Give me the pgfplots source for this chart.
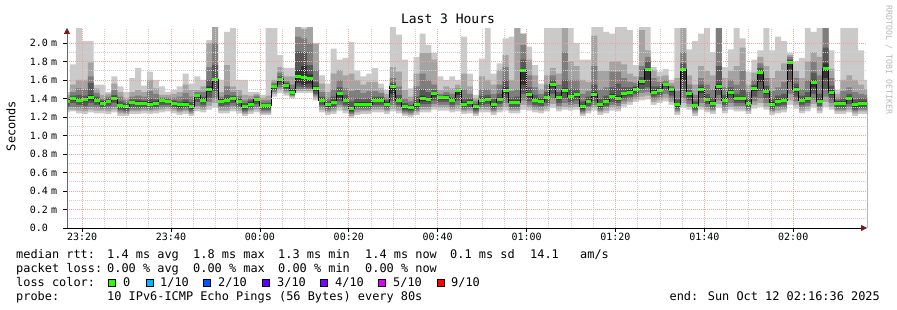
\documentclass[border=0pt]{standalone}
\usepackage{fontspec}
\setmainfont{DejaVu Sans Mono}
\usepackage{pgfplots}
\pgfplotsset{compat=1.18}
\usepackage{pgfplotstable}
\usetikzlibrary{arrows.meta}

\definecolor{sA}{HTML}{CACACA}
\definecolor{sB}{HTML}{A4A4A4}
\definecolor{sC}{HTML}{7E7E7E}
\definecolor{sD}{HTML}{585858}
\definecolor{sE}{HTML}{323232}
\definecolor{medgreen}{HTML}{26FF00}
\definecolor{majgrid}{HTML}{F2A0A0}
\definecolor{mingrid}{HTML}{D0D0D0}
\definecolor{arrowred}{HTML}{7A1A1A}
\definecolor{lc1}{HTML}{00B8FF}
\definecolor{lc2}{HTML}{0059FF}
\definecolor{lc3}{HTML}{5E00FF}
\definecolor{lc4}{HTML}{7E00FF}
\definecolor{lc5}{HTML}{DD00FF}
\definecolor{lc9}{HTML}{FF0000}

\pgfplotstableread{
t m p10 p9 p8 p7 p6 p5 p4 p3 p2 p1
0 1.37 1.47 1.44 1.41 1.39 1.38 1.35 1.32 1.30 1.28 1.25
1 1.40 1.77 1.55 1.47 1.43 1.41 1.38 1.35 1.31 1.28 1.26
2 1.38 2.16 1.60 1.51 1.44 1.40 1.36 1.33 1.30 1.27 1.24
3 1.39 2.02 1.60 1.50 1.43 1.40 1.37 1.32 1.29 1.26 1.23
4 1.41 2.02 1.79 1.64 1.57 1.44 1.38 1.35 1.31 1.28 1.25
5 1.38 1.55 1.51 1.46 1.42 1.40 1.36 1.33 1.30 1.27 1.24
6 1.35 1.55 1.44 1.40 1.38 1.37 1.33 1.31 1.29 1.27 1.24
7 1.37 1.47 1.45 1.42 1.40 1.38 1.35 1.32 1.29 1.26 1.23
8 1.40 1.64 1.56 1.49 1.44 1.42 1.38 1.35 1.31 1.28 1.25
9 1.32 1.53 1.47 1.42 1.37 1.34 1.30 1.28 1.26 1.24 1.21
10 1.31 1.47 1.41 1.38 1.35 1.33 1.29 1.27 1.25 1.23 1.21
11 1.36 1.62 1.47 1.42 1.39 1.37 1.34 1.31 1.28 1.26 1.23
12 1.35 1.73 1.49 1.43 1.39 1.37 1.33 1.30 1.28 1.26 1.23
13 1.35 1.54 1.47 1.42 1.38 1.37 1.33 1.31 1.29 1.27 1.24
14 1.34 1.69 1.60 1.48 1.40 1.36 1.32 1.30 1.28 1.26 1.23
15 1.35 1.60 1.51 1.45 1.39 1.37 1.33 1.31 1.29 1.27 1.24
16 1.38 1.53 1.44 1.41 1.40 1.39 1.36 1.33 1.30 1.28 1.25
17 1.37 1.47 1.44 1.41 1.39 1.38 1.35 1.33 1.31 1.29 1.26
18 1.35 1.49 1.45 1.41 1.38 1.37 1.33 1.31 1.29 1.27 1.24
19 1.33 1.53 1.47 1.42 1.37 1.35 1.31 1.29 1.27 1.25 1.22
20 1.34 1.67 1.55 1.46 1.39 1.36 1.32 1.30 1.28 1.26 1.23
21 1.31 1.56 1.49 1.42 1.36 1.33 1.29 1.27 1.25 1.23 1.21
22 1.43 1.64 1.49 1.47 1.45 1.44 1.41 1.36 1.32 1.29 1.26
23 1.38 1.60 1.53 1.47 1.42 1.40 1.36 1.33 1.30 1.28 1.25
24 1.50 2.03 2.00 1.74 1.60 1.53 1.47 1.41 1.36 1.32 1.28
25 1.60 2.18 2.18 2.00 1.76 1.62 1.58 1.48 1.40 1.35 1.30
26 1.37 1.60 1.47 1.42 1.40 1.39 1.35 1.32 1.30 1.27 1.24
27 1.38 2.12 1.76 1.53 1.44 1.40 1.36 1.33 1.30 1.27 1.24
28 1.40 2.16 1.53 1.47 1.43 1.42 1.38 1.35 1.32 1.29 1.26
29 1.37 1.60 1.49 1.43 1.40 1.39 1.35 1.32 1.30 1.27 1.24
30 1.31 1.60 1.44 1.38 1.35 1.33 1.29 1.27 1.25 1.23 1.21
31 1.34 1.47 1.43 1.40 1.38 1.36 1.32 1.30 1.28 1.26 1.23
32 1.39 1.47 1.45 1.43 1.41 1.40 1.37 1.34 1.31 1.28 1.25
33 1.32 1.44 1.41 1.38 1.35 1.34 1.30 1.28 1.26 1.24 1.22
34 1.32 2.16 1.43 1.38 1.35 1.34 1.30 1.28 1.26 1.24 1.22
35 1.53 2.16 1.60 1.57 1.55 1.54 1.51 1.49 1.47 1.45 1.42
36 1.60 1.87 1.74 1.68 1.64 1.62 1.58 1.55 1.52 1.49 1.46
37 1.54 1.73 1.64 1.59 1.57 1.56 1.52 1.50 1.48 1.46 1.43
38 1.47 1.73 1.64 1.55 1.51 1.49 1.45 1.44 1.43 1.42 1.40
39 1.64 2.18 2.18 2.07 1.91 1.71 1.57 1.53 1.50 1.48 1.46
40 1.63 2.17 2.15 2.05 1.90 1.75 1.55 1.52 1.50 1.48 1.46
41 1.62 2.18 2.18 2.00 1.76 1.66 1.56 1.52 1.50 1.48 1.46
42 1.51 2.00 1.99 1.71 1.58 1.53 1.48 1.45 1.43 1.41 1.38
43 1.38 1.65 1.56 1.47 1.42 1.40 1.36 1.33 1.30 1.28 1.25
44 1.33 1.56 1.47 1.41 1.37 1.35 1.31 1.29 1.27 1.25 1.22
45 1.36 1.94 1.67 1.50 1.42 1.38 1.34 1.31 1.29 1.26 1.23
46 1.45 1.82 1.71 1.60 1.52 1.47 1.41 1.37 1.33 1.30 1.27
47 1.38 1.84 1.65 1.51 1.44 1.40 1.36 1.33 1.30 1.27 1.24
48 1.29 2.01 1.67 1.48 1.37 1.31 1.27 1.25 1.23 1.21 1.19
49 1.34 1.70 1.60 1.49 1.40 1.36 1.32 1.30 1.28 1.25 1.22
50 1.34 1.64 1.55 1.46 1.39 1.36 1.32 1.30 1.28 1.26 1.23
51 1.34 1.67 1.58 1.48 1.40 1.36 1.32 1.30 1.28 1.26 1.23
52 1.38 1.73 1.58 1.48 1.42 1.40 1.36 1.33 1.30 1.28 1.25
53 1.38 1.56 1.51 1.46 1.42 1.40 1.36 1.33 1.30 1.28 1.25
54 1.34 1.49 1.45 1.41 1.38 1.36 1.32 1.30 1.28 1.26 1.23
55 1.53 2.18 1.74 1.62 1.57 1.55 1.45 1.38 1.33 1.29 1.26
56 1.38 2.09 1.69 1.53 1.44 1.40 1.36 1.33 1.30 1.27 1.24
57 1.31 1.82 1.49 1.40 1.35 1.33 1.29 1.27 1.25 1.23 1.21
58 1.30 1.51 1.42 1.37 1.33 1.32 1.28 1.26 1.24 1.22 1.20
59 1.33 1.85 1.67 1.53 1.42 1.35 1.31 1.29 1.27 1.25 1.22
60 1.40 2.10 1.89 1.67 1.50 1.43 1.37 1.34 1.31 1.28 1.25
61 1.39 1.98 1.89 1.60 1.47 1.41 1.37 1.34 1.31 1.28 1.25
62 1.45 1.89 1.82 1.55 1.49 1.47 1.42 1.38 1.34 1.31 1.28
63 1.41 1.64 1.49 1.45 1.43 1.42 1.39 1.36 1.33 1.30 1.27
64 1.41 1.60 1.53 1.47 1.44 1.43 1.39 1.36 1.33 1.30 1.27
65 1.38 1.64 1.51 1.45 1.41 1.40 1.36 1.33 1.30 1.28 1.25
66 1.49 1.60 1.55 1.51 1.50 1.50 1.44 1.38 1.33 1.29 1.26
67 1.34 2.07 1.67 1.50 1.40 1.36 1.32 1.30 1.28 1.26 1.23
68 1.36 1.67 1.53 1.45 1.40 1.38 1.34 1.31 1.29 1.27 1.24
69 1.31 1.44 1.40 1.37 1.34 1.33 1.29 1.27 1.25 1.23 1.21
70 1.38 1.83 1.64 1.50 1.43 1.40 1.36 1.33 1.30 1.28 1.25
71 1.39 2.16 1.60 1.50 1.44 1.41 1.37 1.34 1.31 1.28 1.25
72 1.33 1.67 1.55 1.45 1.39 1.35 1.31 1.29 1.27 1.25 1.22
73 1.39 1.78 1.71 1.55 1.45 1.41 1.37 1.34 1.31 1.28 1.25
74 1.49 2.05 1.87 1.74 1.60 1.52 1.45 1.39 1.35 1.31 1.27
75 1.36 2.07 1.60 1.48 1.41 1.38 1.34 1.31 1.29 1.27 1.24
76 1.36 2.16 2.16 1.50 1.42 1.38 1.34 1.31 1.29 1.27 1.24
77 1.70 2.10 2.10 1.98 1.82 1.72 1.55 1.45 1.38 1.33 1.28
78 1.44 1.96 1.82 1.65 1.52 1.46 1.41 1.37 1.33 1.30 1.27
79 1.38 1.76 1.65 1.52 1.44 1.40 1.36 1.33 1.30 1.28 1.25
80 1.37 1.56 1.50 1.45 1.41 1.39 1.35 1.32 1.30 1.27 1.24
81 1.41 2.16 1.65 1.55 1.47 1.43 1.39 1.35 1.32 1.29 1.26
82 1.55 2.16 1.73 1.65 1.60 1.57 1.52 1.45 1.39 1.34 1.30
83 1.41 2.16 1.67 1.55 1.47 1.43 1.39 1.35 1.32 1.29 1.26
84 1.49 2.16 2.16 1.90 1.60 1.51 1.46 1.40 1.35 1.31 1.28
85 1.42 2.16 1.80 1.60 1.50 1.44 1.40 1.36 1.33 1.30 1.27
86 1.44 2.00 1.75 1.60 1.50 1.46 1.42 1.38 1.34 1.31 1.28
87 1.31 1.82 1.60 1.45 1.37 1.33 1.29 1.27 1.25 1.23 1.21
88 1.37 1.82 1.58 1.48 1.42 1.39 1.35 1.32 1.30 1.27 1.24
89 1.44 2.18 2.08 1.75 1.55 1.47 1.41 1.37 1.33 1.30 1.27
90 1.33 2.18 1.70 1.50 1.40 1.35 1.31 1.29 1.27 1.25 1.22
91 1.37 2.12 1.70 1.52 1.43 1.39 1.35 1.32 1.30 1.27 1.24
92 1.42 2.10 1.80 1.69 1.52 1.45 1.40 1.36 1.33 1.30 1.27
93 1.40 2.18 1.80 1.69 1.56 1.43 1.38 1.35 1.32 1.29 1.26
94 1.45 2.18 1.77 1.62 1.52 1.47 1.43 1.40 1.37 1.34 1.31
95 1.47 2.14 1.67 1.58 1.52 1.49 1.45 1.42 1.39 1.36 1.33
96 1.50 1.76 1.64 1.57 1.53 1.52 1.48 1.45 1.42 1.39 1.36
97 1.58 2.18 2.14 1.75 1.63 1.60 1.55 1.50 1.46 1.42 1.38
98 1.71 2.18 1.92 1.85 1.80 1.73 1.60 1.52 1.47 1.43 1.39
99 1.47 1.74 1.71 1.62 1.53 1.49 1.45 1.42 1.39 1.36 1.33
100 1.49 1.69 1.64 1.58 1.53 1.51 1.47 1.44 1.41 1.38 1.35
101 1.55 1.72 1.65 1.60 1.57 1.56 1.53 1.49 1.45 1.41 1.37
102 1.50 1.60 1.57 1.54 1.52 1.51 1.47 1.43 1.39 1.36 1.33
103 1.33 2.16 1.62 1.48 1.39 1.35 1.31 1.29 1.27 1.25 1.22
104 1.71 2.16 2.16 1.90 1.78 1.73 1.60 1.48 1.40 1.35 1.30
105 1.45 1.93 1.65 1.55 1.49 1.47 1.42 1.38 1.34 1.31 1.28
106 1.32 2.02 1.55 1.44 1.37 1.34 1.30 1.28 1.26 1.24 1.21
107 1.50 2.10 1.75 1.62 1.55 1.52 1.46 1.40 1.35 1.31 1.28
108 1.39 2.16 1.70 1.55 1.45 1.41 1.37 1.34 1.31 1.28 1.25
109 1.35 1.90 1.65 1.50 1.41 1.37 1.33 1.30 1.28 1.26 1.23
110 1.53 2.16 2.16 2.16 1.75 1.56 1.50 1.44 1.38 1.34 1.30
111 1.38 1.74 1.62 1.52 1.44 1.40 1.36 1.33 1.30 1.27 1.24
112 1.47 1.93 1.70 1.60 1.52 1.49 1.44 1.39 1.35 1.31 1.28
113 1.40 2.16 1.75 1.55 1.45 1.42 1.38 1.35 1.32 1.29 1.26
114 1.40 2.05 1.95 1.70 1.50 1.42 1.38 1.35 1.32 1.29 1.26
115 1.35 1.69 1.55 1.47 1.40 1.37 1.33 1.30 1.28 1.26 1.23
116 1.51 1.82 1.68 1.60 1.55 1.53 1.48 1.42 1.37 1.33 1.29
117 1.68 1.92 1.85 1.78 1.73 1.70 1.58 1.48 1.40 1.35 1.31
118 1.48 2.16 1.75 1.62 1.54 1.50 1.45 1.40 1.35 1.31 1.28
119 1.34 1.92 1.62 1.48 1.40 1.36 1.32 1.29 1.27 1.25 1.22
120 1.37 2.07 1.70 1.52 1.43 1.39 1.35 1.32 1.30 1.27 1.24
121 1.38 2.02 1.78 1.58 1.45 1.40 1.36 1.33 1.30 1.28 1.25
122 1.79 1.89 1.87 1.85 1.82 1.81 1.72 1.58 1.45 1.38 1.33
123 1.50 1.80 1.70 1.62 1.56 1.52 1.47 1.42 1.37 1.33 1.29
124 1.38 1.84 1.62 1.50 1.43 1.40 1.36 1.33 1.30 1.27 1.24
125 1.40 2.16 1.80 1.60 1.47 1.42 1.38 1.35 1.32 1.29 1.26
126 1.57 2.12 1.90 1.80 1.68 1.60 1.52 1.45 1.39 1.34 1.30
127 1.37 2.16 1.85 1.65 1.45 1.39 1.35 1.32 1.30 1.27 1.24
128 1.72 2.16 2.16 2.16 1.95 1.78 1.62 1.50 1.42 1.36 1.31
129 1.47 1.92 1.72 1.62 1.54 1.49 1.44 1.39 1.35 1.31 1.28
130 1.35 1.49 1.45 1.41 1.38 1.37 1.33 1.30 1.28 1.26 1.23
131 1.35 2.16 1.60 1.48 1.40 1.37 1.33 1.30 1.28 1.26 1.23
132 1.40 2.16 1.65 1.52 1.45 1.42 1.38 1.34 1.31 1.28 1.25
133 1.33 2.16 1.60 1.47 1.39 1.35 1.31 1.28 1.26 1.24 1.21
134 1.35 1.92 1.55 1.45 1.40 1.37 1.33 1.30 1.28 1.26 1.23
135 1.35 1.60 1.50 1.44 1.40 1.37 1.33 1.30 1.28 1.26 1.23
136 1.35 1.60 1.50 1.44 1.40 1.37 1.33 1.30 1.28 1.26 1.23
}\smoke

\pgfplotsset{smk/.style={const plot, draw=none, fill=#1, forget plot}}

\begin{document}
\begin{tikzpicture}[x=1pt,y=1pt]
\path[use as bounding box] (0,0) rectangle (897,310);
\begin{axis}[
  at={(67pt,82pt)}, anchor=south west,
  scale only axis, width=800pt, height=200pt,
  xmin=-43.4, xmax=136.6, ymin=0, ymax=2.162,
  xtick={-40,-20,0,20,40,60,80,100,120},
  xticklabels={23:20,23:40,00:00,00:20,00:40,01:00,01:20,01:40,02:00},
  minor x tick num=3,
  ytick={0,0.2,0.4,0.6,0.8,1.0,1.2,1.4,1.6,1.8,2.0},
  yticklabels={0.0,0.2 m,0.4 m,0.6 m,0.8 m,1.0 m,1.2 m,1.4 m,1.6 m,1.8 m,2.0 m},
  minor y tick num=1,
  grid=both,
  major grid style={majgrid, line width=0.7pt, dash pattern=on 1pt off 1pt},
  minor grid style={mingrid, line width=0.7pt, dash pattern=on 1pt off 1pt},
  axis on top,
  axis x line=bottom, axis y line=left,
  x axis line style={black, line width=0.8pt, -{Triangle[length=6pt,width=6pt,color=arrowred]}},
  y axis line style={black!60, line width=0.8pt, -{Triangle[length=6pt,width=6pt,color=arrowred]}},
  tick align=outside, major tick length=4pt, minor tick length=0pt,
  major tick style={black, line width=0.7pt},
  xticklabel style={font=\fontsize{10}{12}\selectfont, inner sep=1pt},
  yticklabel style={font=\fontsize{10}{12}\selectfont, text width=31pt, align=left, inner sep=0pt, xshift=-2pt},
  no markers,
]
\addplot[smk=sA] table[x expr=\thisrow{t}*1.33333-44.06, y=p10] {\smoke} \closedcycle;
\addplot[smk=sB] table[x expr=\thisrow{t}*1.33333-44.06, y=p9] {\smoke} \closedcycle;
\addplot[smk=sC] table[x expr=\thisrow{t}*1.33333-44.06, y=p8] {\smoke} \closedcycle;
\addplot[smk=sD] table[x expr=\thisrow{t}*1.33333-44.06, y=p7] {\smoke} \closedcycle;
\addplot[smk=sE] table[x expr=\thisrow{t}*1.33333-44.06, y=p6] {\smoke} \closedcycle;
\addplot[smk=sD] table[x expr=\thisrow{t}*1.33333-44.06, y=p5] {\smoke} \closedcycle;
\addplot[smk=sC] table[x expr=\thisrow{t}*1.33333-44.06, y=p4] {\smoke} \closedcycle;
\addplot[smk=sB] table[x expr=\thisrow{t}*1.33333-44.06, y=p3] {\smoke} \closedcycle;
\addplot[smk=sA] table[x expr=\thisrow{t}*1.33333-44.06, y=p2] {\smoke} \closedcycle;
\addplot[smk=white] table[x expr=\thisrow{t}*1.33333-44.06, y=p1] {\smoke} \closedcycle;
\addplot[const plot, black, line width=1pt] table[x expr=\thisrow{t}*1.33333-44.06, y=m] {\smoke};
\addplot[jump mark left, medgreen, line width=3pt] table[x expr=\thisrow{t}*1.33333-44.06, y=m] {\smoke};
\end{axis}

\node[anchor=base, font=\fontsize{13}{15}\selectfont] at (448,286) {Last 3 Hours};
\node[rotate=90, font=\fontsize{11.9}{14}\selectfont] at (11,184) {Seconds};
\node[rotate=-90, font=\fontsize{8.3}{10}\selectfont, text=black!28] at (889,250) {RRDTOOL / TOBI OETIKER};

\begin{scope}[every node/.style={anchor=base west, inner sep=0pt, font=\fontsize{11.9}{14}\selectfont}]
\node at (16,51) {median rtt:};
\node at (107,51) {1.4 ms avg};
\node at (193,51) {1.8 ms max};
\node at (278,51) {1.3 ms min};
\node at (365,51) {1.4 ms now};
\node at (450,51) {0.1 ms sd};
\node at (530,51) {14.1};
\node at (580,51) {am/s};
\node at (16,37) {packet loss:};
\node at (107,37) {0.00 \% avg};
\node at (193,37) {0.00 \% max};
\node at (278,37) {0.00 \% min};
\node at (365,37) {0.00 \% now};
\node at (16,23) {loss color:};
\node at (123,23) {0};
\node at (160,23) {1/10};
\node at (218,23) {2/10};
\node at (277,23) {3/10};
\node at (335,23) {4/10};
\node at (393,23) {5/10};
\node at (451,23) {9/10};
\node at (16,9) {probe:};
\node at (107,9) {10 IPv6-ICMP Echo Pings (56 Bytes) every 80s};
\node[anchor=base east] at (880,9) {end: Sun Oct 12 02:16:36 2025};
\end{scope}
\begin{scope}[line width=0.6pt]
\draw[fill=medgreen] (108.3,23.3) rectangle (115.7,30.7);
\draw[fill=lc1] (146.3,23.3) rectangle (153.7,30.7);
\draw[fill=lc2] (203.3,23.3) rectangle (210.7,30.7);
\draw[fill=lc3] (262.3,23.3) rectangle (269.7,30.7);
\draw[fill=lc4] (320.3,23.3) rectangle (327.7,30.7);
\draw[fill=lc5] (378.3,23.3) rectangle (385.7,30.7);
\draw[fill=lc9] (437.3,23.3) rectangle (444.7,30.7);
\end{scope}
\end{tikzpicture}
\end{document}
